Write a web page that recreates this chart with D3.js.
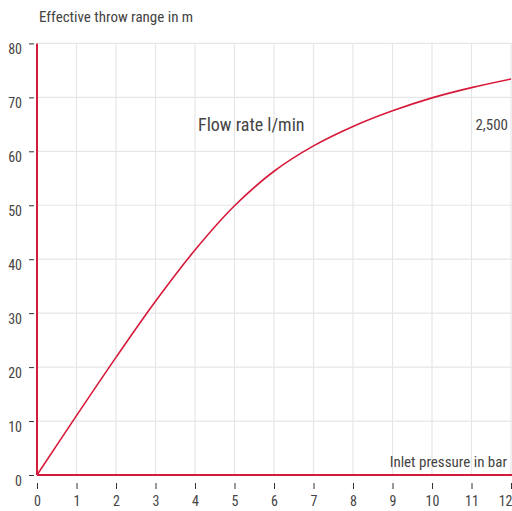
<!DOCTYPE html>
<html>
<head>
<meta charset="utf-8">
<script src="https://cdn.jsdelivr.net/npm/d3@7"></script>
<style>
  body { margin: 0; background: #fff; }
  svg text { font-family: "Liberation Sans Narrow", "Roboto Condensed", "DejaVu Sans Condensed", sans-serif; fill: #444; }
</style>
</head>
<body>
<div id="chart"></div>
<script>
// pressure in bar vs throw range in m (flow rate 2,500 l/min)
const pressure = [0, 1, 2, 3, 4, 5, 6, 7, 8, 9, 10, 11, 12];
const throwRange = [0, 11, 21.8, 32.2, 41.7, 49.9, 56.3, 61.0, 64.6, 67.5, 69.9, 71.8, 73.4];
const xTicks = [0, 1, 2, 3, 4, 5, 6, 7, 8, 9, 10, 11, 12];
const yTicks = [0, 10, 20, 30, 40, 50, 60, 70, 80];

const width = 512;
const height = 511;
const margin = { top: 43.4, right: 1, bottom: 36, left: 37 };
const red = "#d7193a";

const svg = d3.select("#chart")
  .append("svg")
  .attr("width", width)
  .attr("height", height);

const xScale = d3.scaleLinear()
  .domain([0, 12])
  .range([margin.left, width - margin.right]);

const yScale = d3.scaleLinear()
  .domain([0, 80])
  .range([height - margin.bottom, margin.top]);

// grid
svg.append("g")
  .selectAll("line")
  .data(xTicks.slice(1))
  .join("line")
  .attr("x1", d => xScale(d))
  .attr("x2", d => xScale(d))
  .attr("y1", yScale(80))
  .attr("y2", yScale(0))
  .attr("stroke", "#e6e6e6")
  .attr("stroke-width", 1.2);

svg.append("g")
  .selectAll("line")
  .data(yTicks.slice(1))
  .join("line")
  .attr("x1", xScale(0))
  .attr("x2", width)
  .attr("y1", d => yScale(d))
  .attr("y2", d => yScale(d))
  .attr("stroke", "#e6e6e6")
  .attr("stroke-width", 1.2);

// y axis ticks + labels
const yAxis = svg.append("g")
  .attr("transform", `translate(${xScale(0) - 3}, 0)`)
  .call(d3.axisLeft(yScale).tickValues(yTicks).tickSizeInner(5).tickSizeOuter(0).tickPadding(7));
yAxis.select(".domain").remove();
yAxis.selectAll(".tick line").attr("stroke", "#333");
yAxis.selectAll("text").attr("font-size", 14).attr("dy", "0.75em").attr("fill", "#444");

// x axis ticks + labels
const xAxis = svg.append("g")
  .attr("transform", `translate(0, ${yScale(0) + 8})`)
  .call(d3.axisBottom(xScale).tickValues(xTicks).tickSizeInner(6).tickSizeOuter(0).tickPadding(7));
xAxis.select(".domain").remove();
xAxis.selectAll(".tick line").attr("stroke", "#333");
xAxis.selectAll("text").attr("font-size", 14).attr("fill", "#444");
// keep the last label inside the picture
xAxis.selectAll(".tick text")
  .filter(d => d === 12)
  .attr("text-anchor", "end")
  .attr("dx", 1);

// axis lines
svg.append("line")
  .attr("x1", xScale(0)).attr("x2", xScale(0))
  .attr("y1", yScale(80)).attr("y2", yScale(0))
  .attr("stroke", red).attr("stroke-width", 2);

svg.append("line")
  .attr("x1", xScale(0)).attr("x2", width)
  .attr("y1", yScale(0)).attr("y2", yScale(0))
  .attr("stroke", red).attr("stroke-width", 2);

// curve
const line = d3.line()
  .x((d, i) => xScale(pressure[i]))
  .y(d => yScale(d))
  .curve(d3.curveCatmullRom.alpha(0.5));

svg.append("path")
  .datum(throwRange)
  .attr("d", line)
  .attr("fill", "none")
  .attr("stroke", red)
  .attr("stroke-width", 1.6);

// labels
svg.append("text")
  .attr("x", 39).attr("y", 22)
  .attr("font-size", 15)
  .text("Effective throw range in m");

svg.append("text")
  .attr("x", 198).attr("y", 131)
  .attr("font-size", 18)
  .text("Flow rate l/min");

svg.append("text")
  .attr("x", 508).attr("y", 130)
  .attr("text-anchor", "end")
  .attr("font-size", 15)
  .text("2,500");

svg.append("text")
  .attr("x", 507).attr("y", 467)
  .attr("text-anchor", "end")
  .attr("font-size", 15)
  .text("Inlet pressure in bar");
</script>
</body>
</html>
